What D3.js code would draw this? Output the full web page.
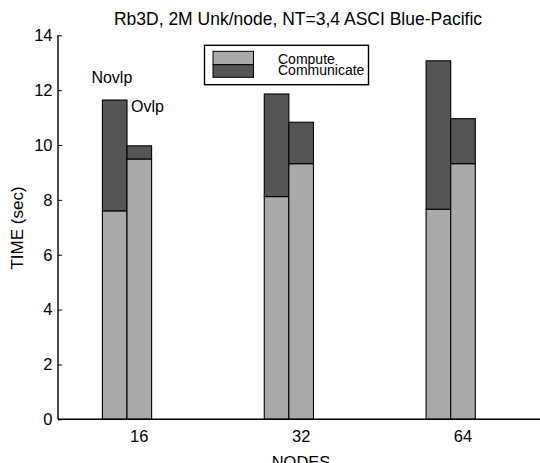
<!DOCTYPE html>
<html>
<head>
<meta charset="utf-8">
<script src="https://cdn.jsdelivr.net/npm/d3@7"></script>
<style>
html,body{margin:0;padding:0;background:#fff;}
svg{display:block;}
text{font-family:"Liberation Sans",Arial,Helvetica,sans-serif;fill:#000;}
</style>
</head>
<body>
<svg id="chart" width="540" height="463"></svg>
<script>
// ---- data ----
const nodes = ["16", "32", "64"];
const series = ["Novlp", "Ovlp"];
const novlpCompute = [7.60, 8.12, 7.66];
const novlpCommunicate = [4.04, 3.74, 5.41];
const ovlpCompute = [9.49, 9.32, 9.32];
const ovlpCommunicate = [0.48, 1.51, 1.64];
const yTicks = [0, 2, 4, 6, 8, 10, 12, 14];
const legendLabels = ["Compute", "Communicate"];
const title = "Rb3D, 2M Unk/node, NT=3,4 ASCI Blue-Pacific";
const xLabel = "NODES";
const yLabel = "TIME (sec)";

// ---- layout ----
const svg = d3.select("#chart");
const mLeft = 58, mBottom = 419.3, mTop = 35.3;
const colCompute = "#a9a9a9", colComm = "#555555";
const bw = 24.6;

const x = d3.scalePoint().domain(nodes).range([127, 450.7]);
const y = d3.scaleLinear().domain([0, 14]).range([mBottom, mTop]);

const data = [];
nodes.forEach((n, i) => {
  data.push({node: n, s: 0, compute: novlpCompute[i], comm: novlpCommunicate[i]});
  data.push({node: n, s: 1, compute: ovlpCompute[i], comm: ovlpCommunicate[i]});
});

const g = svg.append("g");
data.forEach(d => {
  const x0 = x(d.node) + (d.s === 0 ? -bw : 0);
  g.append("rect")
    .attr("x", x0).attr("width", bw)
    .attr("y", y(d.compute)).attr("height", y(0) - y(d.compute))
    .attr("fill", colCompute).attr("stroke", "#000").attr("stroke-width", 1.1);
  g.append("rect")
    .attr("x", x0).attr("width", bw)
    .attr("y", y(d.compute + d.comm)).attr("height", y(d.compute) - y(d.compute + d.comm))
    .attr("fill", colComm).attr("stroke", "#000").attr("stroke-width", 1.1);
});

// y axis (ticks inward)
const yAxis = d3.axisRight(y).tickValues(yTicks).tickSize(4).tickFormat("");
const ya = svg.append("g").attr("transform", `translate(${mLeft},0)`).call(yAxis);
ya.select(".domain").remove();
ya.selectAll(".tick line").attr("stroke", "#000").attr("stroke-width", 1);
svg.append("line").attr("x1", mLeft).attr("x2", mLeft).attr("y1", mTop).attr("y2", mBottom)
  .attr("stroke", "#000").attr("stroke-width", 1.4);
svg.selectAll(".ylab").data(yTicks).enter().append("text")
  .attr("x", mLeft - 5.5).attr("y", d => y(d) + 5.8)
  .attr("text-anchor", "end").attr("font-size", 16.5).text(d => d);

// x axis
svg.append("line").attr("x1", mLeft).attr("x2", 540).attr("y1", mBottom).attr("y2", mBottom)
  .attr("stroke", "#000").attr("stroke-width", 1.4);
svg.selectAll(".xlab").data(nodes).enter().append("text")
  .attr("x", d => x(d) + bw / 2).attr("y", 441.5)
  .attr("text-anchor", "middle").attr("font-size", 16.5).text(d => d);

svg.append("text").attr("x", 301).attr("y", 468).attr("text-anchor", "middle")
  .attr("font-size", 16.5).text(xLabel);
svg.append("text").attr("transform", "translate(23,228) rotate(-90)")
  .attr("text-anchor", "middle").attr("font-size", 17).text(yLabel);
svg.append("text").attr("x", 298).attr("y", 25).attr("text-anchor", "middle")
  .attr("font-size", 17.5).text(title);

// annotations
svg.append("text").attr("x", x(nodes[0]) - bw - 11).attr("y", y(12.25))
  .attr("font-size", 16).text(series[0]);
svg.append("text").attr("x", x(nodes[0]) + 4).attr("y", y(11.2))
  .attr("font-size", 16).text(series[1]);

// legend
const lg = svg.append("g");
lg.append("rect").attr("x", 204.5).attr("y", 45.3).attr("width", 164).attr("height", 39.4)
  .attr("fill", "#fff").attr("stroke", "#000").attr("stroke-width", 1.4);
lg.append("rect").attr("x", 213).attr("y", 51.3).attr("width", 40.5).attr("height", 13.4)
  .attr("fill", colCompute).attr("stroke", "#000").attr("stroke-width", 1);
lg.append("rect").attr("x", 213).attr("y", 64.7).attr("width", 40.5).attr("height", 12.6)
  .attr("fill", colComm).attr("stroke", "#000").attr("stroke-width", 1);
lg.selectAll(".lt").data(legendLabels).enter().append("text")
  .attr("x", 278).attr("y", (d, i) => 64 + i * 11)
  .attr("font-size", 14).text(d => d);
</script>
</body>
</html>
